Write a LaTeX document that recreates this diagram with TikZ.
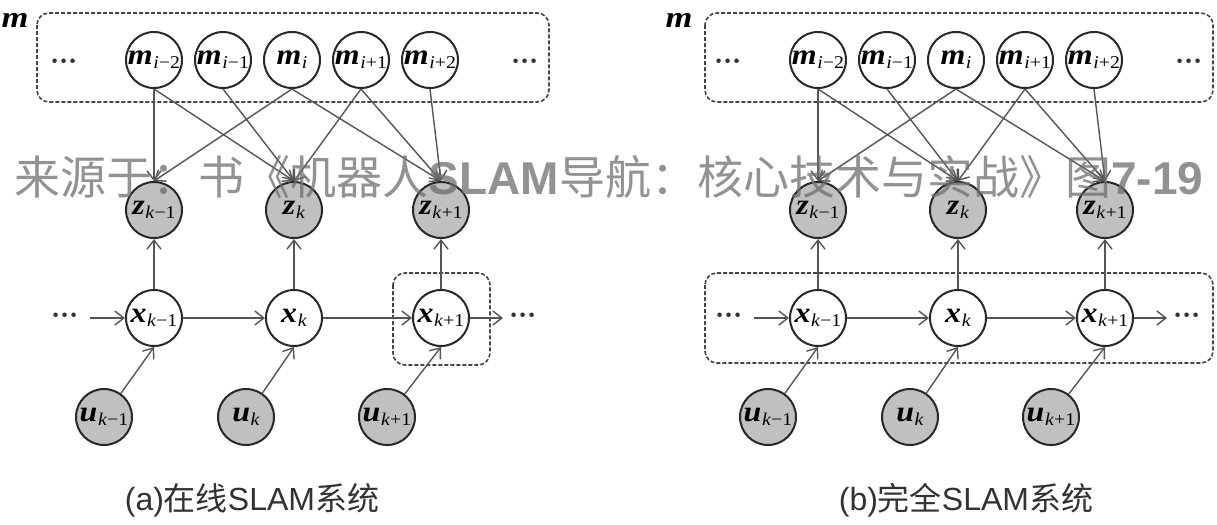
\documentclass[tikz,border=0pt]{standalone}
\usepackage{fontspec}
\setmainfont{Liberation Serif}
\newfontfamily\cjkf{Noto Sans CJK SC}
\newfontfamily\arialf{Liberation Sans}
\usetikzlibrary{arrows.meta}
\definecolor{obsfill}{RGB}{192,192,192}
\definecolor{edgecol}{RGB}{85,85,85}
\definecolor{rimcol}{RGB}{40,40,40}
\definecolor{boxcol}{RGB}{70,70,70}
\definecolor{wmcol}{RGB}{110,110,110}
\definecolor{capcol}{RGB}{50,50,50}
\newcommand\lbl[2]{\scalebox{1.1}[1]{{\fontsize{14.5}{14.5}\selectfont\bfseries\itshape #1}\kern0.3pt\raisebox{-0.45ex}{\fontsize{9}{9}\selectfont\mdseries\upshape #2}}}
\newcommand\threedots{$\boldsymbol{{\cdot}{\cdot}{\cdot}}$}
\usepackage{amsmath,amssymb}
\tikzset{
  nd/.style={circle, minimum size=28pt, inner sep=0pt, draw=rimcol, line width=1pt},
  obs/.style={nd, fill=obsfill},
  hid/.style={nd, fill=white},
  edge/.style={draw=edgecol, line width=0.7pt, -{Straight Barb[length=4.5pt,width=7pt]}},
  dbox/.style={draw=boxcol, line width=0.8pt, dash pattern=on 2pt off 1pt, rounded corners=6pt},
  dotsl/.style={inner sep=0pt, text=black!80, font=\fontsize{14}{14}\selectfont},
  caplbl/.style={inner sep=0pt, text=capcol, font=\fontsize{16}{16}\selectfont},
}
\newcommand\slampanel[1]{%
  \node[inner sep=0pt] (#1mlab) at (15,20) {\scalebox{1.15}[1]{\fontsize{15}{15}\selectfont\bfseries\itshape m}};
  \node[dotsl] (#1mdl) at (64,62) {\threedots};
  \node[dotsl] (#1mdr) at (525,62) {\threedots};
  \node[hid] (#1m1) at (154,60) {\lbl{m}{\textit{i}−2}};
  \node[hid] (#1m2) at (223,60) {\lbl{m}{\textit{i}−1}};
  \node[hid] (#1m3) at (292,60) {\lbl{m}{\textit{i}}};
  \node[hid] (#1m4) at (361,60) {\lbl{m}{\textit{i}+1}};
  \node[hid] (#1m5) at (430,60) {\lbl{m}{\textit{i}+2}};
  \node[obs] (#1z1) at (154,210) {\lbl{z}{\textit{k}−1}};
  \node[obs] (#1z2) at (294,210) {\lbl{z}{\textit{k}}};
  \node[obs] (#1z3) at (441,210) {\lbl{z}{\textit{k}+1}};
  \node[hid] (#1x1) at (154,318) {\lbl{x}{\textit{k}−1}};
  \node[hid] (#1x2) at (294,318) {\lbl{x}{\textit{k}}};
  \node[hid] (#1x3) at (441,318) {\lbl{x}{\textit{k}+1}};
  \node[obs] (#1u1) at (104,417) {\lbl{u}{\textit{k}−1}};
  \node[obs] (#1u2) at (246,417) {\lbl{u}{\textit{k}}};
  \node[obs] (#1u3) at (387,417) {\lbl{u}{\textit{k}+1}};
  \node[dotsl] (#1xdl) at (65,316) {\threedots};
  \node[dotsl] (#1xdr) at (523,316) {\threedots};
  \coordinate (#1in) at (90,318);
  \coordinate (#1out) at (503,318);
  \draw[edge] (#1in) -- (#1x1);
  \draw[edge] (#1x1) -- (#1x2);
  \draw[edge] (#1x2) -- (#1x3);
  \draw[edge] (#1x3) -- (#1out);
  \draw[edge] (#1x1) -- (#1z1);
  \draw[edge] (#1x2) -- (#1z2);
  \draw[edge] (#1x3) -- (#1z3);
  \draw[edge] (#1u1) -- (#1x1.south);
  \draw[edge] (#1u2) -- (#1x2.south);
  \draw[edge] (#1u3) -- (#1x3.south);
  \draw[edge] (#1m1.south) -- (#1z1.north);
  \draw[edge] (#1m1.south) -- (#1z2.north);
  \draw[edge] (#1m2.south) -- (#1z2.north);
  \draw[edge] (#1m3.south) -- (#1z1.north);
  \draw[edge] (#1m3.south) -- (#1z3.north);
  \draw[edge] (#1m4.south) -- (#1z2.north);
  \draw[edge] (#1m4.south) -- (#1z3.north);
  \draw[edge] (#1m5.south) -- (#1z3.north);
}
\begin{document}
\begin{tikzpicture}[x=0.5pt,y=-0.5pt]
  \fill[white] (0,0) rectangle (1217,525);
  \useasboundingbox (0,0) rectangle (1217,525);
  % panel (a)
  \draw[dbox] (37,13) rectangle (549,102);
  \draw[dbox] (393,273) rectangle (490,365);
  \slampanel{a}
  \node[caplbl] (capa) at (252,500) {{\arialf (a)}{\cjkf 在线}{\arialf SLAM}{\cjkf 系统}};
  % panel (b)
  \begin{scope}[shift={(664,0)}]
    \draw[dbox] (41,13) rectangle (549,102);
    \draw[dbox] (41,273) rectangle (549,363);
    \slampanel{b}
  \end{scope}
  \node[caplbl] (capb) at (966,500) {{\arialf (b)}{\cjkf 完全}{\arialf SLAM}{\cjkf 系统}};
  % watermark
  \node[inner sep=0pt, text=wmcol, text opacity=0.75, font=\fontsize{23}{23}\selectfont] (wm) at (609,177)
    {{\cjkf 来源于：书《机器人}{\arialf\bfseries SLAM}{\cjkf 导航：核心技术与实战》图}{\arialf\bfseries 7-19}};
\end{tikzpicture}
\end{document}
